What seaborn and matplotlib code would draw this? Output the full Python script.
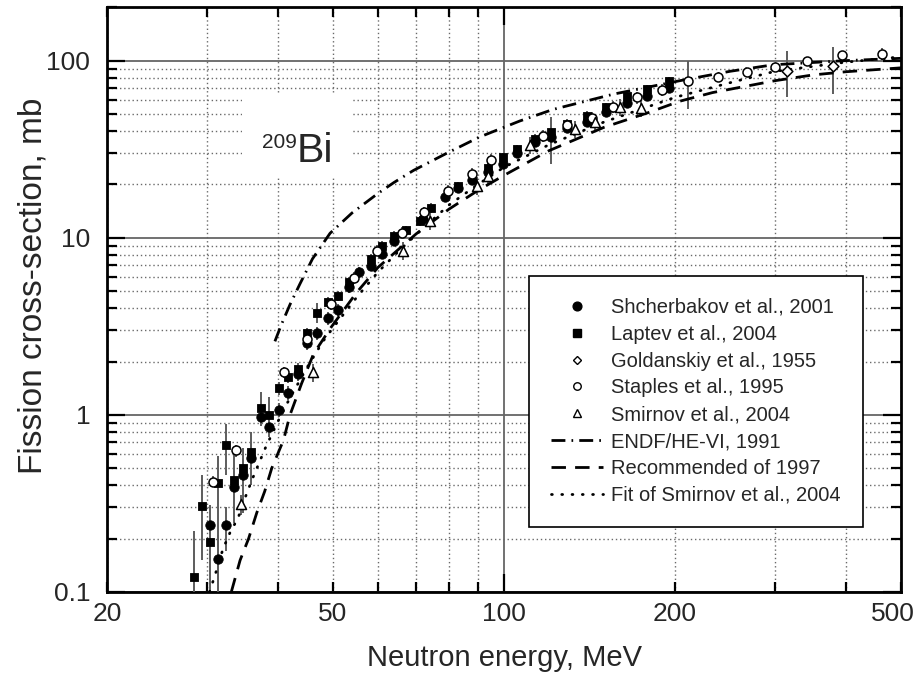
import numpy as np
import pandas as pd
import seaborn as sns
import matplotlib
matplotlib.use("Agg")
import matplotlib.pyplot as plt
from matplotlib.lines import Line2D
from matplotlib.patches import Rectangle
from matplotlib.transforms import offset_copy
from matplotlib.ticker import FixedLocator, FuncFormatter, LogLocator, NullFormatter

# ---------------- data ----------------
# Shcherbakov et al., 2001 (filled circles)
shch_E = [30.3, 31.3, 32.4, 33.5, 34.7, 35.9, 37.3, 38.6, 40.1, 41.7, 43.4, 45.0, 46.9,
          48.9, 51.1, 53.4, 55.6, 58.2, 61.0, 64.0, 72.0, 78.7, 83.1, 87.7, 93.6, 99.5,
          105.6, 113.4, 121.0, 129.3, 140.2, 151.2, 164.5, 178.3, 195.5]
shch_sig = [0.24, 0.154, 0.24, 0.39, 0.46, 0.57, 0.97, 0.85, 1.07, 1.33, 1.71, 2.54, 2.89,
            3.53, 3.92, 5.3, 6.38, 6.96, 8.1, 9.63, 12.8, 16.9, 19.1, 21.3, 23.5, 26.0,
            30.0, 34.5, 37.0, 41.5, 45.2, 51.0, 57.9, 63.3, 70.0]
shch_lo = [0.089, 0.064, 0.07, 0.145, 0.18, 0.17, 0.10, 0.10, 0.10, 0.12, 0.15, 0.22, 0.25,
           0.3, 0.3, 0.4, 0.45, 0.5, 0.55, 0.6, 0.8, 1.0, 1.1, 1.2, 1.3, 1.4,
           1.6, 1.8, 2.0, 2.2, 2.4, 2.7, 3.0, 3.3, 3.6]
shch_hi = [0.068, 0.056, 0.06, 0.24, 0.19, 0.23, 0.12, 0.18, 0.10, 0.12, 0.15, 0.22, 0.25,
           0.3, 0.3, 0.4, 0.45, 0.5, 0.55, 0.6, 0.8, 1.0, 1.1, 1.2, 1.3, 1.4,
           1.6, 1.8, 2.0, 2.2, 2.4, 2.7, 3.0, 3.3, 3.6]

# Laptev et al., 2004 (filled squares)
lapt_E = [28.5, 29.4, 30.3, 31.4, 32.4, 33.5, 34.7, 35.9, 37.3, 38.6, 40.1, 41.7, 43.4,
          45.0, 46.9, 48.9, 51.1, 53.4, 58.2, 61.0, 64.0, 67.2, 71.1, 74.5, 83.1, 93.6,
          99.5, 105.6, 113.4, 121.0, 129.3, 140.2, 151.2, 164.5, 178.3, 195.5]
lapt_sig = [0.122, 0.304, 0.191, 0.412, 0.678, 0.43, 0.50, 0.62, 1.09, 1.0, 1.42, 1.63, 1.82,
            2.89, 3.75, 4.32, 4.71, 5.6, 7.6, 9.03, 10.2, 11.0, 12.4, 14.7, 19.5, 24.9,
            28.4, 31.5, 36.1, 39.3, 44.0, 48.8, 54.4, 63.3, 69.1, 76.9]
lapt_lo = [0.042, 0.153, 0.10, 0.32, 0.22, 0.05, 0.06, 0.07, 0.20, 0.10, 0.12, 0.12, 0.14,
           0.2, 0.45, 0.3, 0.3, 0.4, 0.5, 0.6, 0.7, 0.7, 0.8, 1.0, 1.2, 1.5,
           1.7, 1.9, 2.2, 13.2, 2.6, 2.9, 3.2, 3.6, 4.0, 4.4]
lapt_hi = [0.10, 0.151, 0.04, 0.17, 0.21, 0.05, 0.06, 0.07, 0.25, 0.26, 0.12, 0.12, 0.14,
           0.2, 0.55, 0.3, 0.3, 0.4, 0.5, 0.6, 0.7, 0.7, 0.8, 1.0, 1.2, 1.5,
           1.7, 1.9, 2.2, 8.7, 2.6, 2.9, 3.2, 3.6, 4.0, 4.4]

# Goldanskiy et al., 1955 (open diamonds)
gold_E = [314.6, 379.9]
gold_sig = [87.6, 93.5]
gold_lo = [25.7, 28.5]
gold_hi = [25.9, 26.5]

# Staples et al., 1995 (open circles)
stap_E = [30.7, 33.7, 40.9, 45.0, 49.6, 54.4, 59.7, 66.0, 72.4, 79.6, 87.7, 95.0, 117.0,
          129.3, 142.8, 155.8, 171.2, 189.5, 210.5, 238.4, 267.5, 300.0, 341.9, 393.2, 462.3]
stap_sig = [0.42, 0.63, 1.74, 2.68, 4.2, 5.93, 8.46, 10.7, 13.9, 18.4, 22.9, 27.5, 37.5,
            43.4, 47.6, 54.9, 61.9, 68.2, 76.2, 80.3, 86.5, 92.3, 99.7, 107.8, 109.6]
stap_err = [0.03, 0.05, 0.12, 0.2, 0.3, 0.45, 0.6, 0.8, 1.1, 1.4, 1.8, 2.2, 3.0,
            3.4, 3.8, 4.3, 4.9, 5.4, 23.0, 3.0, 3.0, 3.0, 3.5, 4.0, 7.5]

# Smirnov et al., 2004 (open triangles)
smir_E = [34.4, 46.1, 66.5, 74.1, 89.5, 93.7, 111.0, 133.3, 144.6, 160.1, 174.1]
smir_sig = [0.312, 1.74, 8.46, 12.4, 19.7, 22.4, 33.3, 41.1, 44.8, 54.9, 54.0]
smir_err = [0.04, 0.2, 1.0, 1.4, 2.2, 2.5, 3.6, 4.5, 5.0, 6.0, 6.0]

# ENDF/HE-VI, 1991 evaluation
endf_E = [39.5, 40.5, 42.0, 43.7, 46.0, 49.4, 54.0, 60.0, 64.0, 69.3, 79.3, 90.5, 106.6,
          122.0, 156.0, 204.0, 250.0, 298.0, 400.0, 500.0]
endf_sig = [2.6, 3.2, 4.2, 5.47, 7.6, 10.6, 13.8, 17.8, 20.5, 24.0, 30.0, 37.0, 45.6,
            53.0, 64.7, 77.0, 87.0, 94.7, 100.0, 103.0]

# Recommended of 1997
reco_E = [33.1, 34.3, 35.5, 36.7, 37.9, 39.0, 40.9, 42.0, 44.0, 46.2, 49.6, 55.0, 60.0,
          70.0, 80.0, 90.0, 100.0, 120.0, 150.0, 180.0, 204.0, 233.0, 300.0, 350.0, 400.0, 500.0]
reco_sig = [0.1, 0.151, 0.2, 0.28, 0.37, 0.5, 0.72, 1.0, 1.5, 2.21, 3.12, 4.9, 6.8,
            10.5, 14.5, 18.5, 22.5, 31.0, 42.0, 51.0, 59.0, 66.0, 77.0, 83.0, 86.5, 91.0]

# Fit of Smirnov et al., 2004
fit_E = [30.3, 31.0, 32.0, 33.0, 34.0, 35.0, 36.0, 37.0, 38.0, 40.0, 42.0, 45.0, 48.0,
         50.0, 55.0, 60.0, 65.0, 70.0, 80.0, 90.0, 100.0, 120.0, 150.0, 200.0, 250.0,
         300.0, 400.0, 500.0]
fit_sig = [0.1, 0.125, 0.175, 0.22, 0.26, 0.34, 0.43, 0.53, 0.65, 0.92, 1.25, 1.85, 2.6,
           3.1, 4.6, 6.4, 8.3, 10.4, 15.3, 20.0, 25.0, 33.5, 45.0, 62.0, 75.0,
           87.0, 98.0, 105.0]

x_major = [100]
x_minor = [20, 30, 40, 50, 60, 70, 80, 90, 200, 300, 400, 500]
x_labeled = [20, 50, 100, 200, 500]

# ---------------- style ----------------
sns.set_theme(style="ticks")
plt.rcParams["font.family"] = ["Liberation Sans", "DejaVu Sans"]
plt.rcParams["lines.solid_capstyle"] = "butt"

fig = plt.figure(figsize=(9.18, 6.73), dpi=100)
ax = fig.add_axes([0.1166, 0.1204, 0.8649, 0.8688])
ax.set_xscale("log")
ax.set_yscale("log")
ax.set_xlim(20, 500)
ax.set_ylim(0.1, 200)

ERR_COLOR = "#5c5c5c"


def err_bars(E, s, lo, hi):
    ax.errorbar(E, s, yerr=[lo, hi], fmt="none", ecolor=ERR_COLOR,
                elinewidth=1.4, capsize=0, zorder=3)


# evaluation curves
curves = pd.DataFrame({
    "E": endf_E + reco_E + fit_E,
    "sig": endf_sig + reco_sig + fit_sig,
    "curve": (["ENDF/HE-VI, 1991"] * len(endf_E) + ["Recommended of 1997"] * len(reco_E)
              + ["Fit of Smirnov et al., 2004"] * len(fit_E)),
})
styles = {
    "ENDF/HE-VI, 1991": dict(dashes=(5.0, 2.2, 0.6, 2.2), dash_capstyle="butt"),
    "Recommended of 1997": dict(dashes=(5.2, 3.3), dash_capstyle="butt"),
    "Fit of Smirnov et al., 2004": dict(dashes=(0.3, 3.4), dash_capstyle="round"),
}
for name, sty in styles.items():
    sub = curves[curves["curve"] == name]
    sns.lineplot(data=sub, x="E", y="sig", ax=ax, color="black", lw=2.0,
                 sort=True, estimator=None, zorder=4, legend=False)
    ln = ax.lines[-1]
    ln.set_dashes(sty["dashes"])
    ln.set_dash_capstyle(sty["dash_capstyle"])

# error bars
err_bars(shch_E, shch_sig, shch_lo, shch_hi)
err_bars(lapt_E, lapt_sig, lapt_lo, lapt_hi)
err_bars(stap_E, stap_sig, stap_err, stap_err)
err_bars(smir_E, smir_sig, smir_err, smir_err)
err_bars(gold_E, gold_sig, gold_lo, gold_hi)

# measured points
sns.scatterplot(x=shch_E, y=shch_sig, ax=ax, marker="o", s=46, color="black",
                edgecolor="black", linewidth=0.6, zorder=5, legend=False)
sns.scatterplot(x=lapt_E, y=lapt_sig, ax=ax, marker="s", s=38, color="black",
                edgecolor="black", linewidth=0.6, zorder=5, legend=False)
sns.scatterplot(x=stap_E, y=stap_sig, ax=ax, marker="o", s=42, facecolor="white",
                edgecolor="black", linewidth=1.1, zorder=6, legend=False)
sns.scatterplot(x=smir_E, y=smir_sig, ax=ax, marker="^", s=52, facecolor="white",
                edgecolor="black", linewidth=1.1, zorder=6, legend=False)
sns.scatterplot(x=gold_E, y=gold_sig, ax=ax, marker="D", s=30, facecolor="white",
                edgecolor="black", linewidth=1.1, zorder=6, legend=False)

# axes, ticks and grid
ax.xaxis.set_major_locator(FixedLocator(x_major))
ax.xaxis.set_minor_locator(FixedLocator(x_minor))
ax.xaxis.set_major_formatter(FuncFormatter(lambda v, p: f"{v:g}"))
ax.xaxis.set_minor_formatter(
    FuncFormatter(lambda v, p: f"{v:g}" if round(v) in x_labeled else ""))
ax.yaxis.set_major_locator(LogLocator(base=10))
ax.yaxis.set_minor_locator(LogLocator(base=10, subs=np.arange(2, 10)))
ax.yaxis.set_major_formatter(FuncFormatter(lambda v, p: f"{v:g}"))
ax.yaxis.set_minor_formatter(NullFormatter())

ax.tick_params(which="both", direction="in", top=True, right=True,
               color="black", width=1.6, labelsize=19)
ax.tick_params(which="major", length=13)
ax.tick_params(which="minor", length=7)
ax.tick_params(axis="x", which="both", pad=7)
ax.tick_params(axis="y", which="both", pad=12)

ax.set_axisbelow(True)
ax.grid(which="major", color="#666666", lw=1.3, ls="-")
ax.grid(which="minor", color="#6a6a6a", lw=1.0, ls=(0, (1.0, 2.0)))
for sp in ax.spines.values():
    sp.set_linewidth(2.0)
    sp.set_color("black")
    sp.set_visible(True)

ax.set_xlabel("Neutron energy, MeV", fontsize=21, labelpad=13)
ax.set_ylabel("Fission cross-section, mb", fontsize=24)
ax.yaxis.set_label_coords(-0.074, 0.523)

# nuclide label on a blank panel
ax.add_patch(Rectangle((0.170, 0.708), 0.139, 0.145, transform=ax.transAxes,
                       facecolor="white", edgecolor="none", zorder=1))
bi = ax.text(0.2393, 0.7354, "Bi", transform=ax.transAxes, fontsize=29.5,
             ha="left", va="baseline", zorder=7)
ax.annotate("209", xy=(0, 1), xycoords=bi, xytext=(0, -1), textcoords="offset points",
            ha="right", va="top", fontsize=15, zorder=7)

# legend
handles = [
    Line2D([], [], ls="none", marker="o", ms=6.3, color="black"),
    Line2D([], [], ls="none", marker="s", ms=5.6, color="black"),
    Line2D([], [], ls="none", marker="D", ms=4.4, mfc="white", mec="black", mew=1.0),
    Line2D([], [], ls="none", marker="o", ms=5.4, mfc="white", mec="black", mew=1.0),
    Line2D([], [], ls="none", marker="^", ms=5.8, mfc="white", mec="black", mew=1.0),
    Line2D([], [], color="black", lw=2.0, dashes=styles["ENDF/HE-VI, 1991"]["dashes"]),
    Line2D([], [], color="black", lw=2.0, dashes=styles["Recommended of 1997"]["dashes"]),
    Line2D([], [], color="black", lw=2.0, dashes=styles["Fit of Smirnov et al., 2004"]["dashes"],
           dash_capstyle="round"),
]
labels = ["Shcherbakov et al., 2001", "Laptev et al., 2004", "Goldanskiy et al., 1955",
          "Staples et al., 1995", "Smirnov et al., 2004", "ENDF/HE-VI, 1991",
          "Recommended of 1997", "Fit of Smirnov et al., 2004"]
leg = ax.legend(handles, labels, loc="lower right", bbox_to_anchor=(0.952, 0.111),
                fontsize=14.5, frameon=True, fancybox=False, shadow=False,
                handlelength=2.6, handletextpad=0.4, labelspacing=0.39,
                borderpad=1.1, borderaxespad=0.0, framealpha=1.0)
leg.get_frame().set_edgecolor("black")
leg.get_frame().set_linewidth(1.2)
leg.set_zorder(10)

# keep the last energy label inside the canvas
fig.canvas.draw()
for lab in ax.xaxis.get_minorticklabels():
    if lab.get_text() == "500":
        lab.set_transform(offset_copy(lab.get_transform(), fig=fig, x=-8, y=0, units="dots"))

fig.savefig("out.png", dpi=100)
